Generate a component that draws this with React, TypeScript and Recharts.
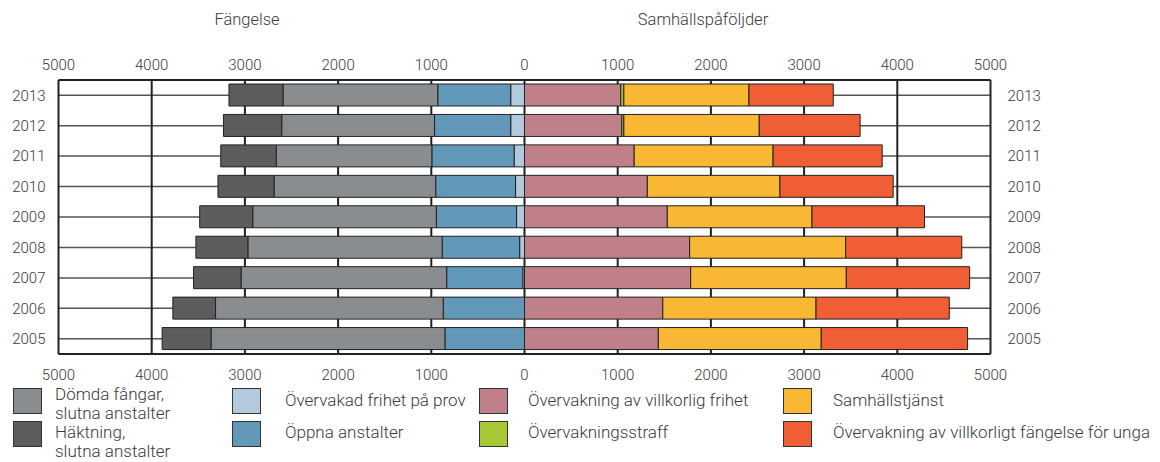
import React from 'react';
import {
  BarChart,
  Bar,
  XAxis,
  YAxis,
  CartesianGrid,
} from 'recharts';

// years listed top to bottom as in the chart
const years = ['2013', '2012', '2011', '2010', '2009', '2008', '2007', '2006', '2005'];

// Fängelse (drawn to the left of zero)
const provFrihet = [148, 148, 111, 96, 85, 52, 18, 0, 0];
const oppnaAnstalter = [783, 817, 883, 857, 861, 831, 817, 872, 854];
const domdaFangar = [1660, 1640, 1670, 1734, 1970, 2085, 2206, 2443, 2509];
const haktning = [580, 625, 595, 602, 569, 558, 510, 458, 525];

// Samhällspåföljder (drawn to the right of zero)
const villkorligFrihet = [1033, 1044, 1177, 1318, 1532, 1772, 1783, 1484, 1436];
const overvakningsstraff = [33, 22, 0, 0, 0, 0, 0, 0, 0];
const samhallstjanst = [1342, 1453, 1490, 1423, 1552, 1674, 1670, 1644, 1748];
const villkorligtUnga = [905, 1082, 1171, 1215, 1208, 1246, 1323, 1430, 1570];

const axisTicks = [-5000, -4000, -3000, -2000, -1000, 0, 1000, 2000, 3000, 4000, 5000];

const COLORS = {
  prov: '#b3c9dc',
  oppna: '#6399b8',
  domda: '#898d90',
  hakt: '#5d5d5f',
  villk: '#c0808a',
  straff: '#a8c935',
  samh: '#f8b833',
  unga: '#ef5e34',
};

const data = years.map((year, i) => ({
  year,
  prov: -provFrihet[i],
  oppna: -oppnaAnstalter[i],
  domda: -domdaFangar[i],
  hakt: -haktning[i],
  villk: villkorligFrihet[i],
  straff: overvakningsstraff[i],
  samh: samhallstjanst[i],
  unga: villkorligtUnga[i],
}));

const FONT = 'Roboto, "Noto Sans", sans-serif';
const TEXT = '#3a3a3a';

// sx/sy = swatch position, tx/ty = text position
const legendItems = [
  { label: ['Dömda fångar,', 'slutna anstalter'], color: COLORS.domda, sx: 13, sy: 388, tx: 55, ty: 385 },
  { label: ['Häktning,', 'slutna anstalter'], color: COLORS.hakt, sx: 13, sy: 421, tx: 55, ty: 423 },
  { label: ['Övervakad frihet på prov'], color: COLORS.prov, sx: 232, sy: 388, tx: 285, ty: 391 },
  { label: ['Öppna anstalter'], color: COLORS.oppna, sx: 232, sy: 421, tx: 285, ty: 423 },
  { label: ['Övervakning av villkorlig frihet'], color: COLORS.villk, sx: 479, sy: 388, tx: 528, ty: 391 },
  { label: ['Övervakningsstraff'], color: COLORS.straff, sx: 479, sy: 421, tx: 528, ty: 423 },
  { label: ['Samhällstjänst'], color: COLORS.samh, sx: 783, sy: 388, tx: 833, ty: 391 },
  { label: ['Övervakning av villkorligt fängelse för unga'], color: COLORS.unga, sx: 783, sy: 421, tx: 833, ty: 423 },
];

const tickStyle = { fill: TEXT, fontSize: 15, fontFamily: FONT, fontWeight: 300 };
const fmt = (v: number) => String(Math.abs(v));

export default function App() {
  return (
    <div style={{ position: 'absolute', left: 0, top: 0, width: 1160, height: 462, background: '#fff', fontFamily: FONT, color: TEXT, fontWeight: 300 }}>
      <div style={{ position: 'absolute', left: 147, width: 200, top: 10, textAlign: 'center', fontSize: 16.5 }}>Fängelse</div>
      <div style={{ position: 'absolute', left: 603, width: 200, top: 10, textAlign: 'center', fontSize: 16.5 }}>Samhällspåföljder</div>

      <BarChart
        width={1160}
        height={462}
        data={data}
        layout="vertical"
        stackOffset="sign"
        barSize={22}
        margin={{ top: 50, right: 109.5, bottom: 78, left: 13.5 }}
      >
        <CartesianGrid xAxisId="bottom" yAxisId="left" vertical={false} stroke="#555" strokeWidth={1.5} />
        <CartesianGrid xAxisId="bottom" yAxisId="left" horizontal={false} stroke="#222" strokeWidth={2} />
        <XAxis
          xAxisId="top"
          orientation="top"
          type="number"
          domain={[-5000, 5000]}
          allowDataOverflow
          ticks={axisTicks}
          tickFormatter={fmt}
          tick={tickStyle}
          tickSize={0}
          tickMargin={10}
          height={30}
          axisLine={{ stroke: '#222', strokeWidth: 2 }}
        />
        <XAxis
          xAxisId="bottom"
          orientation="bottom"
          type="number"
          domain={[-5000, 5000]}
          allowDataOverflow
          ticks={axisTicks}
          tickFormatter={fmt}
          tick={tickStyle}
          tickSize={0}
          tickMargin={15}
          height={30}
          axisLine={{ stroke: '#222', strokeWidth: 2 }}
        />
        <YAxis
          yAxisId="left"
          type="category"
          dataKey="year"
          width={45}
          tick={tickStyle}
          tickSize={0}
          tickMargin={13}
          axisLine={false}
        />
        <YAxis
          yAxisId="right"
          orientation="right"
          type="category"
          dataKey="year"
          width={60}
          tick={{ ...tickStyle, textAnchor: 'start' }}
          tickSize={0}
          tickMargin={17}
          axisLine={false}
        />
        <Bar xAxisId="bottom" yAxisId="left" dataKey="prov" stackId="s" fill={COLORS.prov} stroke="#222" strokeWidth={1} isAnimationActive={false} />
        <Bar xAxisId="bottom" yAxisId="left" dataKey="oppna" stackId="s" fill={COLORS.oppna} stroke="#222" strokeWidth={1} isAnimationActive={false} />
        <Bar xAxisId="bottom" yAxisId="left" dataKey="domda" stackId="s" fill={COLORS.domda} stroke="#222" strokeWidth={1} isAnimationActive={false} />
        <Bar xAxisId="bottom" yAxisId="left" dataKey="hakt" stackId="s" fill={COLORS.hakt} stroke="#222" strokeWidth={1} isAnimationActive={false} />
        <Bar xAxisId="bottom" yAxisId="left" dataKey="villk" stackId="s" fill={COLORS.villk} stroke="#222" strokeWidth={1} isAnimationActive={false} />
        <Bar xAxisId="bottom" yAxisId="left" dataKey="straff" stackId="s" fill={COLORS.straff} stroke="#222" strokeWidth={1} isAnimationActive={false} />
        <Bar xAxisId="bottom" yAxisId="left" dataKey="samh" stackId="s" fill={COLORS.samh} stroke="#222" strokeWidth={1} isAnimationActive={false} />
        <Bar xAxisId="bottom" yAxisId="left" dataKey="unga" stackId="s" fill={COLORS.unga} stroke="#222" strokeWidth={1} isAnimationActive={false} />
      </BarChart>

      {legendItems.map((item) => (
        <div key={item.label.join(' ')}>
          <div
            style={{
              position: 'absolute',
              left: item.sx,
              top: item.sy,
              width: 27,
              height: 24,
              background: item.color,
              border: '1px solid #333',
            }}
          />
          <div
            style={{
              position: 'absolute',
              left: item.tx,
              top: item.ty,
              fontSize: 17,
              lineHeight: '19px',
              whiteSpace: 'nowrap',
            }}
          >
            {item.label.map((l) => (
              <div key={l}>{l}</div>
            ))}
          </div>
        </div>
      ))}
    </div>
  );
}
